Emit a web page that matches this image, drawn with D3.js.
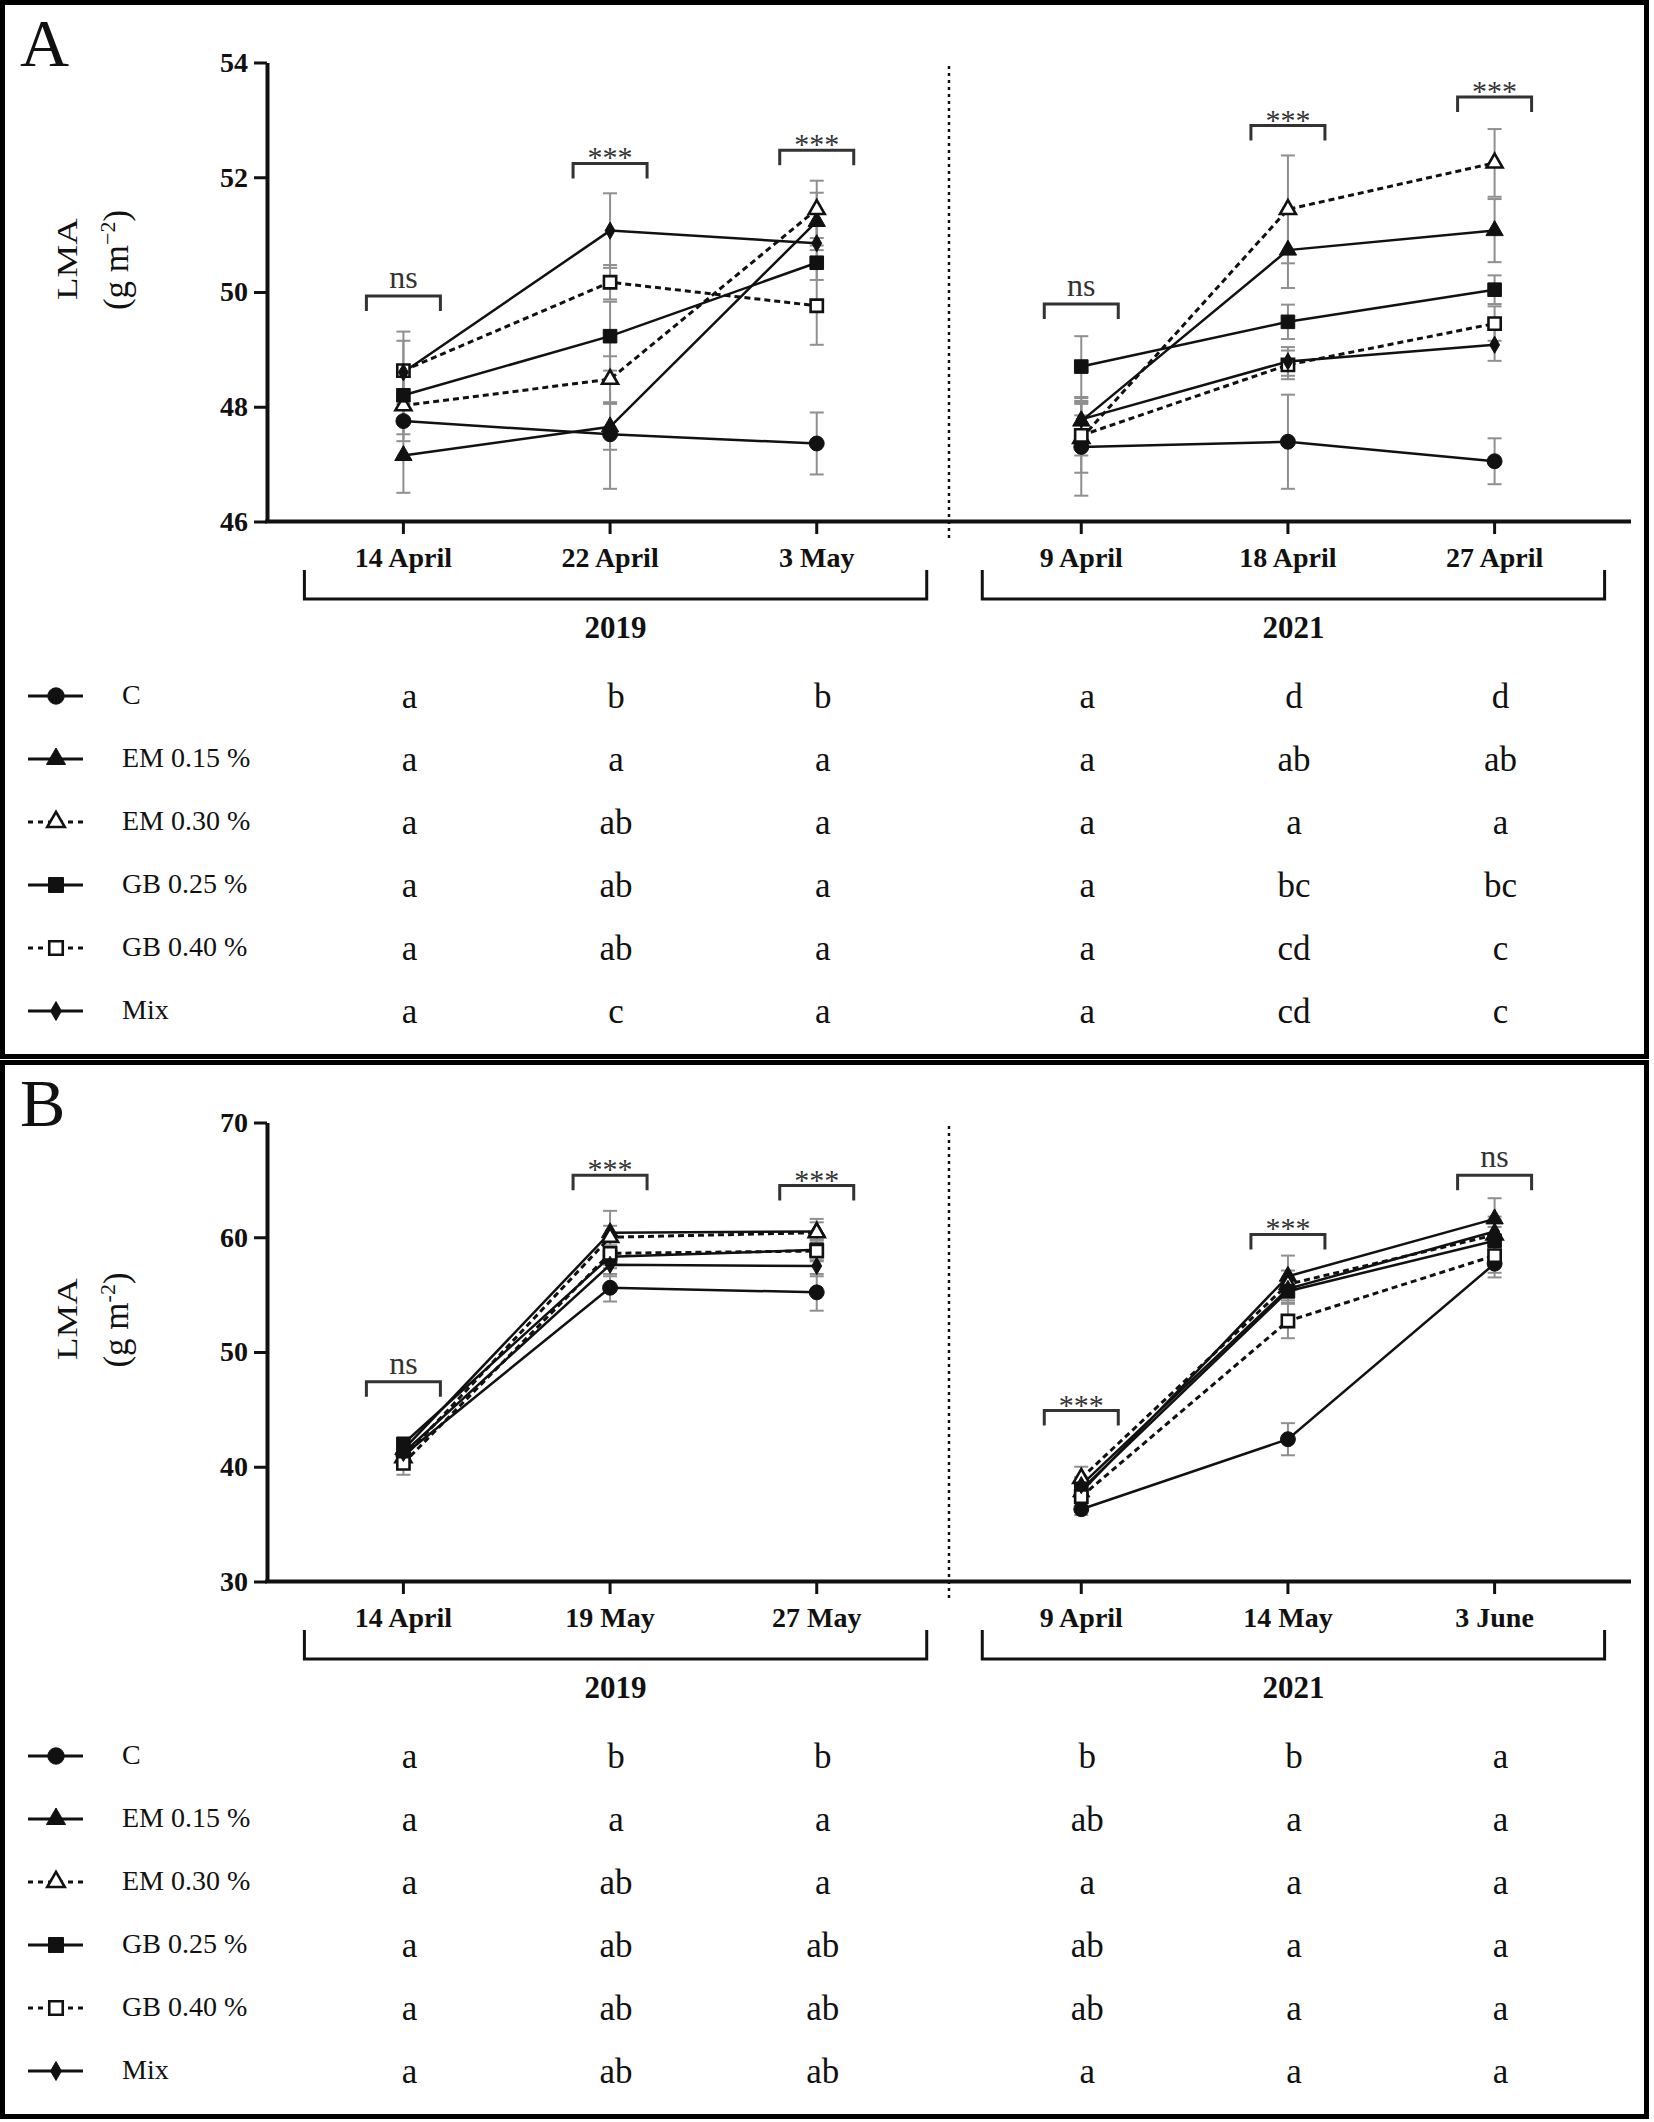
<!DOCTYPE html>
<html>
<head>
<meta charset="utf-8">
<script src="https://cdn.jsdelivr.net/npm/d3@7"></script>
<style>
  html, body { margin: 0; padding: 0; background: #fff; }
  svg { display: block; }
</style>
</head>
<body>
<script>
// ---------------- DATA ----------------
const seriesNames = ["C", "EM 0.15 %", "EM 0.30 %", "GB 0.25 %", "GB 0.40 %", "Mix"];
const years = ["2019", "2021"];

const datesA = ["14 April", "22 April", "3 May", "9 April", "18 April", "27 April"];
const datesB = ["14 April", "19 May", "27 May", "9 April", "14 May", "3 June"];

const yTicksA = [46, 48, 50, 52, 54];
const yTicksB = [30, 40, 50, 60, 70];

// mean LMA per series (rows) and date (columns)
const lmaA = [
  [47.75, 47.52, 47.36, 47.30, 47.39, 47.05], // C
  [47.15, 47.65, 51.23, 47.75, 50.73, 51.07], // EM 0.15 %
  [48.02, 48.48, 51.44, 47.45, 51.44, 52.25], // EM 0.30 %
  [48.20, 49.23, 50.51, 48.70, 49.48, 50.04], // GB 0.25 %
  [48.63, 50.17, 49.76, 47.50, 48.73, 49.45], // GB 0.40 %
  [48.60, 51.07, 50.85, 47.78, 48.79, 49.08]  // Mix
];
const seA = [
  [0.35, 0.95, 0.54, 0.85, 0.82, 0.40],
  [0.65, 0.40, 0.50, 0.35, 0.66, 0.55],
  [0.50, 0.40, 0.50, 0.60, 0.94, 0.59],
  [0.45, 0.60, 0.30, 0.53, 0.30, 0.25],
  [0.68, 0.30, 0.68, 0.35, 0.25, 0.30],
  [0.55, 0.65, 0.30, 0.30, 0.25, 0.28]
];
const lmaB = [
  [41.0, 55.6, 55.2, 36.3, 42.4, 57.7],
  [41.5, 60.4, 60.5, 37.8, 56.6, 61.6],
  [40.8, 60.0, 60.4, 39.0, 55.9, 60.2],
  [42.0, 58.3, 58.9, 38.0, 55.3, 59.7],
  [40.3, 58.6, 58.8, 37.4, 52.7, 58.4],
  [41.2, 57.6, 57.5, 38.4, 55.5, 60.5]
];
const seB = [
  [0.7, 1.2, 1.6, 0.5, 1.4, 1.2],
  [0.6, 1.9, 1.1, 0.8, 1.8, 1.8],
  [0.8, 1.0, 0.9, 1.0, 1.2, 1.3],
  [0.5, 1.0, 0.9, 0.8, 1.0, 1.2],
  [1.0, 1.0, 0.9, 0.8, 1.5, 1.5],
  [0.6, 1.0, 0.9, 0.7, 1.0, 1.3]
];

// significance per date and the LMA level of its bracket
const sigA = ["ns", "***", "***", "ns", "***", "***"];
const sigLevelA = [49.93, 52.24, 52.47, 49.79, 52.90, 53.40];
const sigB = ["ns", "***", "***", "***", "***", "ns"];
const sigLevelB = [47.4, 65.4, 64.5, 44.9, 60.25, 65.4];

// letters of the post-hoc test, rows = series, cols = dates
const lettersA = [
  ["a", "b", "b", "a", "d", "d"],
  ["a", "a", "a", "a", "ab", "ab"],
  ["a", "ab", "a", "a", "a", "a"],
  ["a", "ab", "a", "a", "bc", "bc"],
  ["a", "ab", "a", "a", "cd", "c"],
  ["a", "c", "a", "a", "cd", "c"]
];
const lettersB = [
  ["a", "b", "b", "b", "b", "a"],
  ["a", "a", "a", "ab", "a", "a"],
  ["a", "ab", "a", "a", "a", "a"],
  ["a", "ab", "ab", "ab", "a", "a"],
  ["a", "ab", "ab", "ab", "a", "a"],
  ["a", "ab", "ab", "a", "a", "a"]
];

// ---------------- STYLE ----------------
const markerTypes = ["circle", "triangle", "triangle-open", "square", "square-open", "diamond"];
const dashed = [false, false, true, false, true, false];
const FONT = "'Liberation Serif','Times New Roman',serif";
const INK = "#111";
const ERR = "#8f8f8f";

const W = 1654, H = 2122;
const svg = d3.select("body").append("svg").attr("width", W).attr("height", H);

const GAP = 0.28; // extra space between the two years
const xs = d3.scaleLinear().domain([-0.66, 5.94]).range([267, 1631]);
const xi = i => xs(i + (i >= 3 ? GAP : 0));

function drawMarker(g, type, x, y, k) {
  k = k || 1;
  let sym, size, open = false;
  switch (type) {
    case "circle": sym = d3.symbolCircle; size = 175; break;
    case "triangle": sym = d3.symbolTriangle; size = 130; break;
    case "triangle-open": sym = d3.symbolTriangle; size = 110; open = true; break;
    case "square": sym = d3.symbolSquare; size = 185; break;
    case "square-open": sym = d3.symbolSquare; size = 150; open = true; break;
    case "diamond": sym = d3.symbolDiamond; size = 85; break;
  }
  g.append("path")
    .attr("d", d3.symbol().type(sym).size(size * k * k)())
    .attr("transform", `translate(${x},${y})`)
    .attr("fill", open ? "#fff" : INK)
    .attr("stroke", INK)
    .attr("stroke-width", open ? 2.6 : 1);
}

function drawPanel(p) {
  const g = svg.append("g").attr("transform", `translate(0,${p.oy})`);

  // frame
  g.append("rect").attr("x", 2.5).attr("y", 2.5).attr("width", 1644).attr("height", 1054)
    .attr("fill", "none").attr("stroke", "#000").attr("stroke-width", 5);

  // panel letter
  g.append("text").attr("x", 20).attr("y", 66).text(p.label)
    .attr("font-family", FONT).attr("font-size", 68).attr("fill", INK);

  const ys = d3.scaleLinear().domain(p.yDomain).range([521.5, 62.5]);

  // y axis
  const yAxis = d3.axisLeft(ys).tickValues(p.yTicks).tickSize(13).tickPadding(6).tickSizeOuter(0);
  const ya = g.append("g").attr("transform", "translate(267,0)").call(yAxis);
  ya.select(".domain").attr("stroke", INK).attr("stroke-width", 4);
  ya.selectAll(".tick line").attr("stroke", INK).attr("stroke-width", 3);
  ya.selectAll(".tick text").attr("font-family", FONT).attr("font-weight", "bold")
    .attr("font-size", 28).attr("fill", INK);

  // x axis line and ticks
  g.append("line").attr("x1", 265).attr("x2", 1631).attr("y1", 521.5).attr("y2", 521.5)
    .attr("stroke", INK).attr("stroke-width", 4);
  p.dates.forEach((d, i) => {
    g.append("line").attr("x1", xi(i)).attr("x2", xi(i)).attr("y1", 521).attr("y2", 534)
      .attr("stroke", INK).attr("stroke-width", 3);
    g.append("text").attr("x", xi(i)).attr("y", 567).attr("text-anchor", "middle").text(d)
      .attr("font-family", FONT).attr("font-weight", "bold").attr("font-size", 28).attr("fill", INK);
  });

  // year divider (dotted)
  const xDiv = (xi(2) + xi(3)) / 2;
  g.append("line").attr("x1", xDiv).attr("x2", xDiv).attr("y1", 66).attr("y2", 540)
    .attr("stroke", INK).attr("stroke-width", 2.5).attr("stroke-dasharray", "3,4");

  // y label
  g.append("text").attr("transform", "translate(77,259) rotate(-90) scale(1.27,1)")
    .attr("text-anchor", "middle").attr("font-family", FONT).attr("font-size", 29).attr("fill", INK)
    .text("LMA");
  const t2 = g.append("text").attr("transform", "translate(128,260) rotate(-90)")
    .attr("text-anchor", "middle").attr("font-family", FONT).attr("font-size", 35).attr("fill", INK);
  t2.append("tspan").text("(g m");
  t2.append("tspan").attr("dy", -13).attr("font-size", 22).text(p.unitExp);
  t2.append("tspan").attr("dy", 13).text(")");

  // error bars
  const eg = g.append("g");
  p.values.forEach((row, s) => {
    row.forEach((v, i) => {
      const x = xi(i), e = p.se[s][i];
      const y1 = ys(v - e), y2 = ys(v + e);
      eg.append("line").attr("x1", x).attr("x2", x).attr("y1", y1).attr("y2", y2)
        .attr("stroke", ERR).attr("stroke-width", 2);
      [y1, y2].forEach(yy => eg.append("line").attr("x1", x - 7).attr("x2", x + 7)
        .attr("y1", yy).attr("y2", yy).attr("stroke", ERR).attr("stroke-width", 2));
    });
  });

  // lines (each year separately)
  const line = d3.line().x(d => xi(d.i)).y(d => ys(d.v));
  p.values.forEach((row, s) => {
    const pts = row.map((v, i) => ({ i, v }));
    [pts.slice(0, 3), pts.slice(3)].forEach(seg => {
      g.append("path").attr("d", line(seg)).attr("fill", "none").attr("stroke", INK)
        .attr("stroke-width", dashed[s] ? 3 : 2.5).attr("stroke-dasharray", dashed[s] ? "6,4" : null);
    });
  });

  // markers
  const mg = g.append("g");
  p.values.forEach((row, s) => row.forEach((v, i) => drawMarker(mg, markerTypes[s], xi(i), ys(v))));

  // significance brackets
  p.sig.forEach((txt, i) => {
    const x = xi(i), y = ys(p.sigLevel[i]);
    g.append("path").attr("d", `M${x - 37},${y + 15}V${y}H${x + 37}V${y + 15}`)
      .attr("fill", "none").attr("stroke", "#333").attr("stroke-width", 3);
    g.append("text").attr("x", x).attr("y", txt === "ns" ? y - 8 : y + 4).attr("text-anchor", "middle")
      .text(txt).attr("font-family", FONT).attr("font-size", txt === "ns" ? 32 : 30).attr("fill", "#333");
  });

  // year brackets
  [[0, 2], [3, 5]].forEach((r, k) => {
    const xa = xi(r[0]) - 99, xb = xi(r[1]) + 110;
    g.append("path").attr("d", `M${xa},570V599H${xb}V570`).attr("fill", "none")
      .attr("stroke", INK).attr("stroke-width", 3);
    g.append("text").attr("x", (xa + xb) / 2).attr("y", 638).attr("text-anchor", "middle")
      .text(years[k]).attr("font-family", FONT).attr("font-weight", "bold").attr("font-size", 31).attr("fill", INK);
  });

  // legend + letter table
  seriesNames.forEach((name, s) => {
    const y0 = 696 + 63 * s;
    g.append("line").attr("x1", 28).attr("x2", 83).attr("y1", y0).attr("y2", y0)
      .attr("stroke", INK).attr("stroke-width", 3).attr("stroke-dasharray", dashed[s] ? "5,5" : null);
    drawMarker(g, markerTypes[s], 56, y0, 1.1);
    g.append("text").attr("x", 122).attr("y", y0 + 8).text(name)
      .attr("font-family", FONT).attr("font-size", 28).attr("fill", INK);
    p.letters[s].forEach((l, i) => {
      g.append("text").attr("x", xi(i) + 6).attr("y", y0 + 12).attr("text-anchor", "middle").text(l)
        .attr("font-family", FONT).attr("font-size", 35).attr("fill", INK);
    });
  });
}

drawPanel({ oy: 0, label: "A", dates: datesA, yDomain: [46, 54], yTicks: yTicksA,
  values: lmaA, se: seA, sig: sigA, sigLevel: sigLevelA, letters: lettersA, unitExp: "\u22122" });
drawPanel({ oy: 1060, label: "B", dates: datesB, yDomain: [30, 70], yTicks: yTicksB,
  values: lmaB, se: seB, sig: sigB, sigLevel: sigLevelB, letters: lettersB, unitExp: "-2" });
</script>
</body>
</html>
